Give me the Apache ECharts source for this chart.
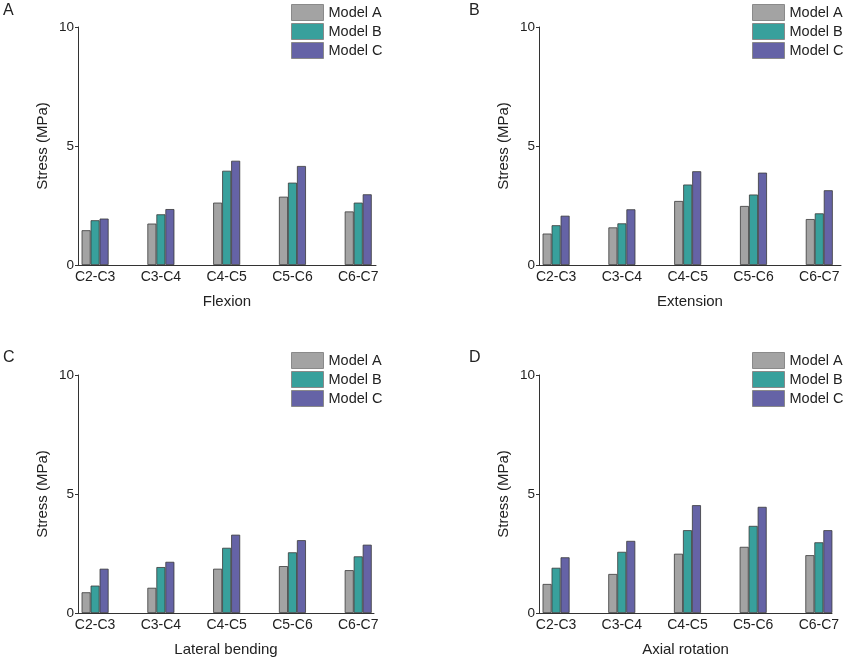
<!DOCTYPE html>
<html>
<head>
<meta charset="utf-8">
<script src="https://cdn.jsdelivr.net/npm/echarts@6/dist/echarts.min.js"></script>
<style>
html, body { margin: 0; padding: 0; background: #fff; }
#main { width: 844px; height: 660px; }
</style>
</head>
<body>
<div id="main"></div>
<script>
// data
const levels = ['C2-C3', 'C3-C4', 'C4-C5', 'C5-C6', 'C6-C7'];
const models = ['Model A', 'Model B', 'Model C'];
const panelTitles = ['A', 'B', 'C', 'D'];
const motions = ['Flexion', 'Extension', 'Lateral bending', 'Axial rotation'];
const yTicks = [0, 5, 10];

const flexionA = [1.46, 1.74, 2.62, 2.87, 2.25];
const flexionB = [1.88, 2.13, 3.96, 3.46, 2.62];
const flexionC = [1.95, 2.35, 4.38, 4.16, 2.97];

const extensionA = [1.32, 1.58, 2.69, 2.48, 1.93];
const extensionB = [1.67, 1.75, 3.38, 2.96, 2.17];
const extensionC = [2.07, 2.34, 3.94, 3.88, 3.14];

const lateralA = [0.87, 1.06, 1.86, 1.97, 1.80];
const lateralB = [1.15, 1.93, 2.74, 2.55, 2.38];
const lateralC = [1.86, 2.15, 3.29, 3.06, 2.87];

const axialA = [1.22, 1.64, 2.49, 2.78, 2.43];
const axialB = [1.90, 2.57, 3.48, 3.66, 2.97];
const axialC = [2.34, 3.03, 4.53, 4.46, 3.48];

const panelData = [
    [flexionA, flexionB, flexionC],
    [extensionA, extensionB, extensionC],
    [lateralA, lateralB, lateralC],
    [axialA, axialB, axialC]
];

const colors = ['#a3a3a3', '#38a09c', '#6563a6'];
const font = 'Liberation Sans, Arial, sans-serif';

// panel boxes (px)
const boxes = [
    {left: 78, top: 27, width: 298, height: 238, xMax: 4.27, letter: [3, 3], legend: [291, 4]},
    {left: 539, top: 27, width: 302, height: 238, xMax: 4.33, letter: [469, 3], legend: [752, 4]},
    {left: 78, top: 375, width: 296, height: 238, xMax: 4.24, letter: [3, 350], legend: [291, 352]},
    {left: 539, top: 375, width: 293, height: 238, xMax: 4.2, letter: [469, 350], legend: [752, 352]}
];

const chart = echarts.init(document.getElementById('main'));

const grid = [], xAxis = [], yAxis = [], series = [], title = [], legend = [];
boxes.forEach(function (b, p) {
    grid.push({left: b.left, top: b.top, width: b.width, height: b.height});
    title.push({
        text: panelTitles[p], left: b.letter[0], top: b.letter[1], padding: 0,
        textStyle: {fontFamily: font, fontSize: 16, fontWeight: 'normal', color: '#222'}
    });
    legend.push({
        data: models, orient: 'vertical', left: b.legend[0], top: b.legend[1], padding: 0,
        itemWidth: 32, itemHeight: 16, itemGap: 2, icon: 'rect',
        itemStyle: {borderColor: '#8a8a8a', borderWidth: 1},
        textStyle: {fontFamily: font, fontSize: 14.5, color: '#222'},
        selectedMode: false
    });
    xAxis.push({
        type: 'value', gridIndex: p, min: -0.26, max: b.xMax,
        name: motions[p], nameLocation: 'middle', nameGap: 29,
        nameTextStyle: {fontFamily: font, fontSize: 15, color: '#222'},
        axisLine: {show: true, onZero: false, lineStyle: {color: '#333', width: 1}},
        axisTick: {show: false},
        splitLine: {show: false},
        axisLabel: {
            customValues: [0, 1, 2, 3, 4], margin: 5,
            fontFamily: font, fontSize: 14, color: '#222',
            formatter: function (v) { return levels[Math.round(v)]; }
        }
    });
    yAxis.push({
        type: 'value', gridIndex: p, min: 0, max: 10, interval: 5,
        name: 'Stress (MPa)', nameLocation: 'middle', nameGap: 28,
        nameTextStyle: {fontFamily: font, fontSize: 15, color: '#222'},
        axisLine: {show: true, onZero: false, lineStyle: {color: '#333', width: 1}},
        axisTick: {show: true, length: 3, lineStyle: {color: '#333'}},
        splitLine: {show: false},
        axisLabel: {
            margin: 4, fontFamily: font, fontSize: 13.5, color: '#222',
            formatter: function (v) { return yTicks.indexOf(v) >= 0 ? String(v) : ''; }
        }
    });
    panelData[p].forEach(function (vals, m) {
        series.push({
            name: models[m], type: 'bar', xAxisIndex: p, yAxisIndex: p,
            barWidth: 9, barGap: '0%',
            itemStyle: {color: colors[m], borderColor: '#3a3a3a', borderWidth: 0.8},
            emphasis: {disabled: true},
            data: vals.map(function (v, i) { return [i, v]; })
        });
    });
});

chart.setOption({
    animation: false,
    color: colors,
    title: title,
    legend: legend,
    grid: grid,
    xAxis: xAxis,
    yAxis: yAxis,
    series: series
});
</script>
</body>
</html>
